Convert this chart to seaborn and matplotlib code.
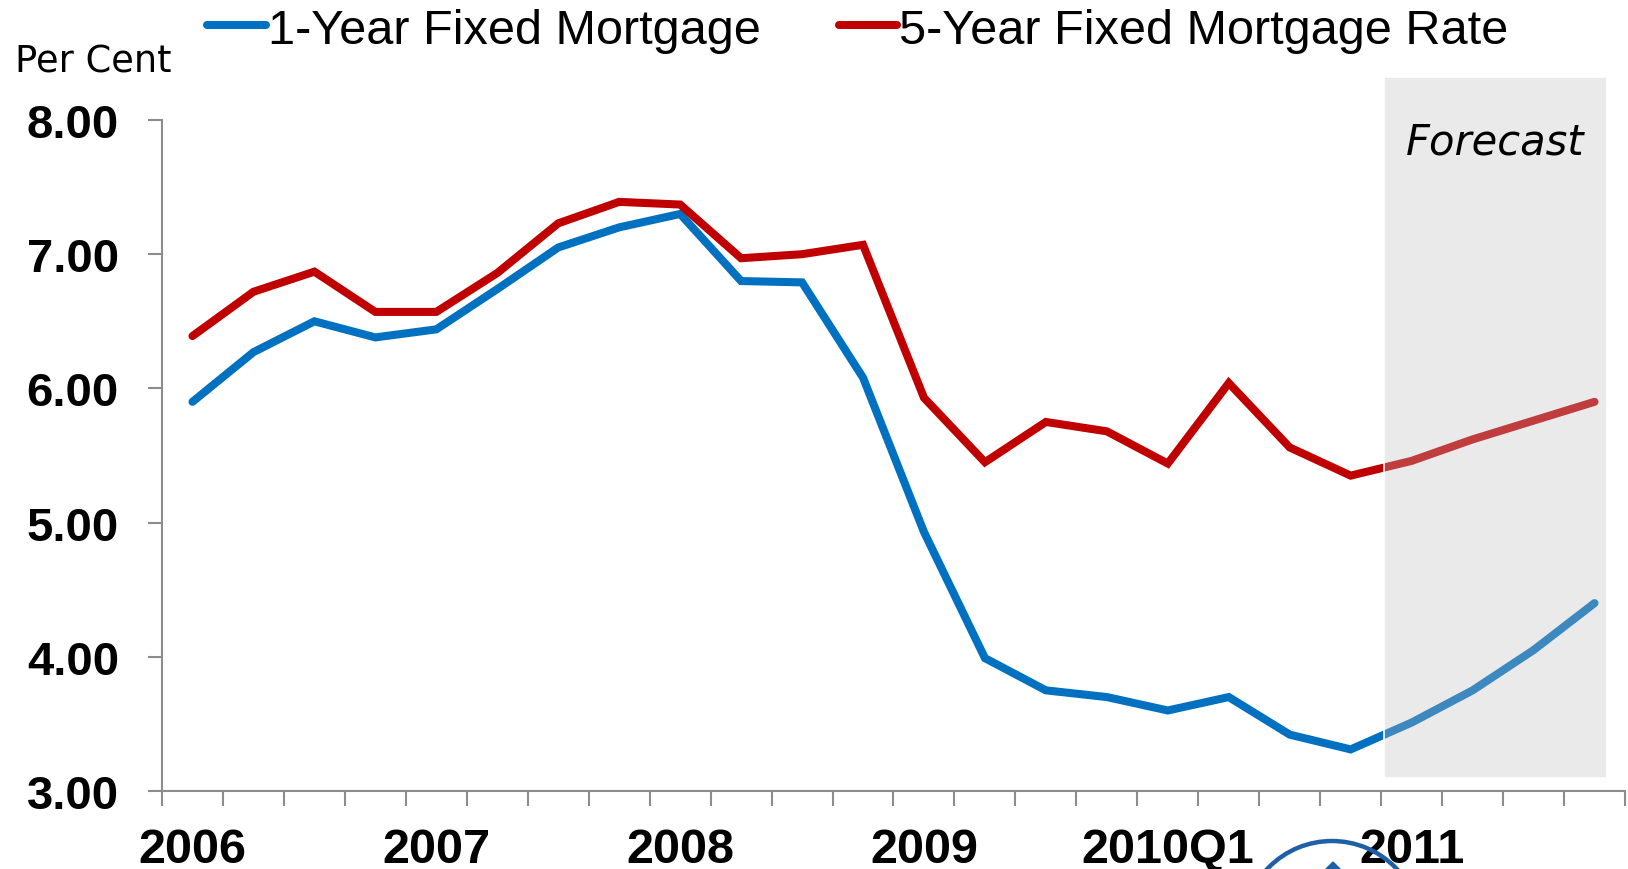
import numpy as np
import pandas as pd
import matplotlib
matplotlib.use("Agg")
import matplotlib.pyplot as plt
from matplotlib.patches import Rectangle, Arc, Polygon
from matplotlib.lines import Line2D
import seaborn as sns

# quarterly rates, 2006Q1 .. 2011Q4 (2011 = forecast)
quarters = ["2006Q1", "2006Q2", "2006Q3", "2006Q4",
            "2007Q1", "2007Q2", "2007Q3", "2007Q4",
            "2008Q1", "2008Q2", "2008Q3", "2008Q4",
            "2009Q1", "2009Q2", "2009Q3", "2009Q4",
            "2010Q1", "2010Q2", "2010Q3", "2010Q4",
            "2011Q1", "2011Q2", "2011Q3", "2011Q4"]
one_year = [5.90, 6.27, 6.50, 6.38, 6.44, 6.74, 7.05, 7.20,
            7.30, 6.80, 6.79, 6.08, 4.93, 3.99, 3.75, 3.70,
            3.60, 3.70, 3.42, 3.31, 3.51, 3.75, 4.05, 4.40]
five_year = [6.39, 6.72, 6.87, 6.57, 6.57, 6.86, 7.23, 7.39,
             7.37, 6.97, 7.00, 7.07, 5.93, 5.45, 5.75, 5.68,
             5.44, 6.04, 5.56, 5.35, 5.46, 5.62, 5.76, 5.90]
series_names = ["1-Year Fixed Mortgage", "5-Year Fixed Mortgage Rate"]
year_labels = ["2006", "2007", "2008", "2009", "2010Q1", "2011"]
year_quarters = ["2006Q1", "2007Q1", "2008Q1", "2009Q1", "2010Q1", "2011Q1"]
y_ticks = [3.00, 4.00, 5.00, 6.00, 7.00, 8.00]

BLUE = "#0070C0"
RED = "#C00000"
GREY = "#8C8C8C"
LW = 5.8

sns.set_style("white")
plt.rcParams["font.family"] = ["Liberation Sans", "DejaVu Sans"]
plt.rcParams["text.color"] = "black"
plt.rcParams["xtick.color"] = "black"
plt.rcParams["ytick.color"] = "black"

n = len(quarters)
df = pd.DataFrame({
    "pos": list(range(n)) * 2,
    "rate": one_year + five_year,
    "series": [series_names[0]] * n + [series_names[1]] * n,
})

fig = plt.figure(figsize=(16.28, 8.70), dpi=100)
ax = fig.add_axes([162 / 1628, 1 - 792 / 870, (1625 - 162) / 1628, (792 - 121) / 870])

sns.lineplot(data=df, x="pos", y="rate", hue="series",
             palette={series_names[0]: BLUE, series_names[1]: RED},
             legend=False, ax=ax)
for line in ax.lines:
    line.set_linewidth(LW)
    line.set_solid_capstyle("round")
    line.set_solid_joinstyle("miter")

ax.set_xlim(-0.5, n - 0.5)
ax.set_ylim(3, 8)

# forecast band, drawn over the lines so they look lighter
fc_start = quarters.index("2011Q1") - 0.46
band = Rectangle((fc_start, 3.10), (n - 0.8) - fc_start, 8.32 - 3.10,
                 facecolor=(0.75, 0.75, 0.75, 0.32), edgecolor="white",
                 linewidth=1.2, zorder=3, clip_on=False)
ax.add_patch(band)
ax.text(21.37, 7.84, "Forecast", fontsize=30, style="italic",
        family="DejaVu Sans", ha="center", va="center", zorder=4)

# x axis: boundary ticks, year labels in the middle of Q1
ax.set_xticks(np.arange(-0.5, n, 1))
ax.set_xticklabels([])
ax.set_xticks([quarters.index(q) for q in year_quarters], year_labels, minor=True)
ax.tick_params(axis="x", which="major", direction="out", length=11, width=1.5,
               color=GREY, bottom=True)
ax.tick_params(axis="x", which="minor", length=0, pad=26, labelsize=35)
for lab in ax.get_xticklabels(minor=True):
    lab.set_fontweight("bold")

ax.set_yticks(y_ticks)
ax.set_yticklabels([f"{v:.2f}" for v in y_ticks], fontsize=34, fontweight="bold")
ax.tick_params(axis="y", direction="out", length=10, width=1.5, color=GREY,
               left=True, pad=21)

ax.set_xlabel("")
ax.set_ylabel("")
sns.despine(ax=ax)
for side in ["left", "bottom"]:
    ax.spines[side].set_color(GREY)
    ax.spines[side].set_linewidth(1.5)

fig.text(15 / 1628, 1 - 62 / 870, "Per Cent", fontsize=26.5, family="DejaVu Sans",
         ha="left", va="center")

handles = [Line2D([], [], color=BLUE, linewidth=LW, solid_capstyle="round"),
           Line2D([], [], color=RED, linewidth=LW, solid_capstyle="round")]
fig.legend(handles, series_names, loc="center", bbox_to_anchor=(858 / 1628, 1 - 31 / 870),
           ncol=2, frameon=False, fontsize=35, handlelength=1.2, handletextpad=0.05,
           columnspacing=1.6, borderpad=0, borderaxespad=0)

# bit of logo peeking in at the bottom
fig.add_artist(Arc((1332 / 1628, -61 / 870), 178 / 1628, 178 / 870,
                   transform=fig.transFigure, color="#1F5FA8", linewidth=3.2))
fig.add_artist(Polygon([(1333 / 1628, 1 - 863 / 870), (1318 / 1628, 1 - 878 / 870),
                        (1348 / 1628, 1 - 878 / 870)], closed=True,
                       transform=fig.transFigure, color="#1F5FA8"))

fig.savefig("out.png", dpi=100)
